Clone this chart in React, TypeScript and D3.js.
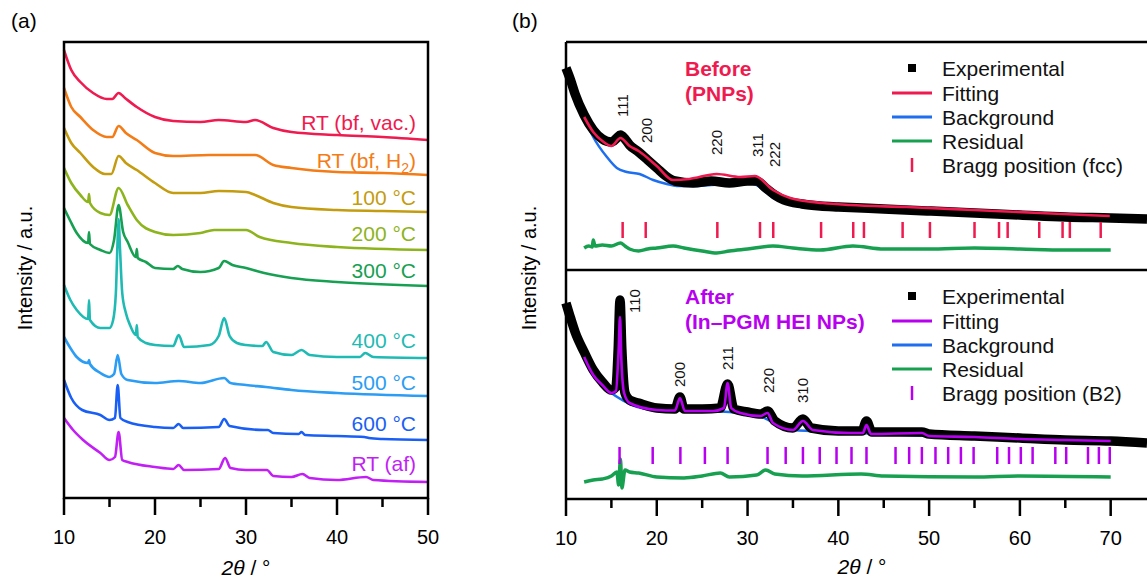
import React from "react";
import * as d3 from "d3";

type Pt = [number, number];

// ---------- Panel (a) data: 2θ (°) vs intensity (a.u., stacked) ----------
const aNames = ["RT (bf, vac.)", "RT (bf, H2)", "100 °C", "200 °C", "300 °C", "400 °C", "500 °C", "600 °C", "RT (af)"];
const aColors = ["#ef1a4f", "#f47c16", "#c49c10", "#8db41c", "#17a052", "#1fbab3", "#2b9df4", "#1a5ff5", "#c21ff5"];

const aVac: Pt[] = [[10,448],[10.8,428],[11.8,416],[13.2,405],[14.7,399],[15.3,399],[16,405],[16.7,400],[18,391],[20,381],[22,377],[25,376],[27,378],[30,376],[31,378],[33,370],[35,366],[40,363],[45,361],[50,358]];
const aH2: Pt[] = [[10,410],[10.8,391],[11.8,381],[13.2,368],[14.7,361],[15.3,361],[16,372],[16.8,365],[18,358],[20,345],[22,342],[26,343],[30,343],[31,343],[33,333],[35,330],[40,326],[45,325],[50,323]];
const a100: Pt[] = [[10,370],[10.8,355],[11.8,345],[13.2,331],[14.5,324],[15.2,324],[16,342],[16.8,335],[18,328],[20,315],[22,305],[25,305],[27,307],[30,306],[31,303],[33,295],[35,291],[40,288],[45,287],[50,286]];
const a200: Pt[] = [[10,330],[10.8,315],[11.8,303],[12.65,296],[12.75,304],[12.85,295],[14,285],[15,283],[16,310],[17,293],[18,278],[20,266],[22,263],[25,265],[26.5,268],[30,268],[31.5,261],[35,255],[40,251],[50,248]];
const a300: Pt[] = [[10,290],[10.7,277],[11.4,265],[12.65,255],[12.75,266],[12.85,254],[14,248],[15,245],[15.5,258],[16,293],[16.5,266],[17,256],[17.9,241],[18,249],[18.1,240],[19,236],[20,230],[22,229],[22.5,232],[23,229],[25,226],[27,230],[27.6,237],[28.5,233],[30,230],[32,225],[35,220],[40,216],[50,212]];
const a400: Pt[] = [[10,213],[10.7,198],[11.4,188],[12.65,179],[12.75,198],[12.85,178],[14,170],[15,170],[15.4,178],[15.7,205],[15.9,260],[16,279],[16.15,250],[16.4,205],[16.8,185],[17.3,172],[17.9,163],[18,173],[18.1,161],[19,155],[20,153],[22,152],[22.6,163],[23.2,151],[26,153],[27,162],[27.6,180],[28.2,162],[29,155],[30,153],[31.8,152],[32.2,156],[33,146],[35,143],[36.1,148],[37,143],[40,141],[42.5,141],[43.1,145],[44,141],[50,140]];
const a500: Pt[] = [[10,161],[10.7,150],[11.4,141],[12.65,135],[12.75,138],[12.85,134],[14,125],[15,121],[15.5,124],[15.9,143],[16.3,124],[17,118],[20,115],[22.6,117],[25,115],[27.6,120],[28.3,115],[30,113],[32.2,111],[35,108],[40,105],[50,102]];
const a600: Pt[] = [[10,118],[10.8,100],[12,88],[14,83],[15,78],[15.6,80],[15.9,113],[16.2,80],[17,76],[20,71],[22,70],[22.6,74],[23.1,70],[27,71],[27.6,79],[28.2,72],[32,68],[32.4,68],[33,65],[35.8,64],[36.1,66],[36.5,63],[40,62],[43,61],[43.5,60],[45,59],[50,58]];
const aAf: Pt[] = [[10,80],[11,68],[12.1,58],[14,45],[15,38],[15.6,41],[16,66],[16.4,38],[17,36],[20,31],[22,29],[22.6,33],[23.2,28],[27,29],[27.7,40],[28.3,30],[30,28],[32.3,28],[33,22],[35,21],[36.2,24],[37,20],[40,18],[43.2,21],[44,18],[50,16]];
const aSeries = [aVac, aH2, a100, a200, a300, a400, a500, a600, aAf];
const aLabelLevel = [376, 338, 301, 265, 228, 158, 116, 75, 35];

const aTicks = [10, 20, 30, 40, 50];
const aMinor = [15, 25, 35, 45];

// ---------- Panel (b) data ----------
const bTicks = [10, 20, 30, 40, 50, 60, 70];
const bMinor = [15, 25, 35, 45, 55, 65];

const bTopExp: Pt[] = [[10,202],[10.5,190],[11,176],[12,155],[13,140],[14,131],[15,128],[15.6,132],[16,135],[16.5,131],[17,125],[18,118],[19,110],[20,102],[21,94],[22,89],[24,87],[26,89],[28,87],[30,89],[31,89],[32,82],[33,75],[34,70],[36,66],[38,64],[40,63],[45,61],[50,59],[55,57],[60,55],[65,53],[70,52],[74,51]];
const bTopFit: Pt[] = [[12,153],[13,138],[14,129],[15,124],[16,132],[17,124],[18,119],[20,104],[21.8,90],[23.6,91],[26.6,96],[29.2,93],[30.8,94],[32.8,80],[34.7,72],[38.3,67],[41.3,65],[47.5,63],[54.9,60],[62.2,57],[69.9,54]];
const bTopBg: Pt[] = [[12,153],[13,133],[14.5,113],[15.6,102],[16.7,98],[18.1,96],[19.6,90],[21.1,86],[22.2,84],[24,84],[26,85],[28,86],[30,87],[31,85],[32,78],[33,71],[34,68],[38,66],[41,64],[47.5,62],[55,59],[62,56],[70,53]];
const bTopRes: Pt[] = [[12,22],[12.5,24],[12.9,23],[13,30],[13.2,24],[14,25],[15,24],[16,27],[16.5,24],[17,21],[18,19],[19,21],[20,22],[21.8,24],[23,22],[25,19],[26.6,17],[28,19],[30,21],[32.8,24],[35,22],[38,20],[41.6,24],[45,21],[50,21],[55,22],[60,21],[65,20],[70,20]];
const fccPos = [16.24, 18.78, 26.67, 31.37, 32.83, 38.1, 41.64, 42.82, 47.08, 50.09, 55.0, 57.7, 58.65, 62.13, 64.7, 65.5, 68.9];
const fccHkl = ["111", "200", "220", "311", "222"];
const fccHklPos = [16.24, 18.9, 26.67, 31.2, 33.0];
const fccHklLevel = [153, 127, 115, 113, 103];

const bBotExp: Pt[] = [[10,196],[10.5,181],[11,167],[12,147],[13,129],[14,117],[15,109],[15.5,112],[15.75,150],[15.95,199],[16.15,150],[16.5,106],[17,99],[18,96],[20,91],[22,90],[22.55,102],[23,90],[25,90],[27,91],[27.8,115],[28.5,90],[30,87],[31.5,85],[32.2,88],[33,78],[35,71],[36.1,80],[37,71],[40,68],[42.6,68],[43.1,78],[43.7,67],[49.2,67],[50,65],[55,63],[60,61],[65,59],[70,58],[74,56]];
const bBotFit: Pt[] = [[12,142],[13,124],[14,114],[15,106],[15.5,108],[15.8,150],[15.95,182],[16.1,139],[16.4,106],[17,96],[20,89],[22,88.5],[22.55,101],[23.1,88],[26.2,88],[27.4,91],[27.8,116],[28.2,91],[29.2,86],[31.4,83],[32.2,86],[32.8,76],[35,69],[36.1,78],[37.2,69],[41.3,66],[42.7,66],[43.1,74],[43.6,65],[49.2,66],[50,63],[55,62],[60,60],[65,59],[70,58]];
const bBotBg: Pt[] = [[12,142],[13,124],[14,114],[15,106],[16,100],[17,95],[20,89],[26,88],[28,87],[31,84],[33,76],[35,69],[40,67],[50,63],[60,60],[70,58]];
const bBotRes: Pt[] = [[12,17],[13,19],[14,20],[15,23],[15.6,27],[15.8,14],[16,40],[16.15,11],[16.5,29],[17,27],[18,26],[20,22],[23,21],[25,23],[27,26],[28,22],[31,24],[32,29],[33,25],[36,23],[42.5,25],[45,23],[55,22],[60,23],[70,22]];
const b2Pos = [15.9, 19.55, 22.6, 25.3, 27.8, 32.2, 34.2, 36.1, 37.95, 39.8, 41.45, 43.1, 46.3, 47.8, 49.2, 50.7, 52.1, 53.5, 54.9, 57.5, 58.8, 60.1, 61.4, 63.9, 65.1, 67.5, 68.7, 69.9];
const b2Hkl = ["110", "200", "211", "220", "310"];
const b2HklPos = [17.6, 22.6, 27.8, 32.4, 36.1];
const b2HklLevel = [186, 112, 129, 106, 96];

const legendTop = ["Experimental", "Fitting", "Background", "Residual", "Bragg position (fcc)"];
const legendBot = ["Experimental", "Fitting", "Background", "Residual", "Bragg position (B2)"];

const RED = "#ef1a4f";
const PURPLE = "#b800f0";
const BLUE = "#1e6ff0";
const GREEN = "#17a050";
const FONT = "'Liberation Sans', Arial, sans-serif";
const FS = 21;

export default function App() {
  const xA = d3.scaleLinear().domain([10, 50]).range([64, 428]);
  const yA = d3.scaleLinear().domain([0, 456]).range([498, 42]);
  const xB = d3.scaleLinear().domain([10, 74]).range([566, 1147]);
  const yT = d3.scaleLinear().domain([0, 228]).range([270, 42]);
  const yBo = d3.scaleLinear().domain([0, 229]).range([499, 270]);

  const lineA = d3.line<Pt>().x(d => xA(d[0])).y(d => yA(d[1])).curve(d3.curveMonotoneX);
  const lineT = d3.line<Pt>().x(d => xB(d[0])).y(d => yT(d[1])).curve(d3.curveMonotoneX);
  const lineBo = d3.line<Pt>().x(d => xB(d[0])).y(d => yBo(d[1])).curve(d3.curveMonotoneX);

  const axisY = 498;
  const axisYB = 499;

  const renderLabelA = (name: string, i: number) => {
    const y = yA(aLabelLevel[i]) + 7.5;
    if (name === "RT (bf, H2)") {
      return (
        <text key={i} x={416} y={y} textAnchor="end" fill={aColors[i]} fontSize={FS} fontFamily={FONT}>
          RT (bf, H<tspan fontSize={14} dy={5}>2</tspan><tspan dy={-5}>)</tspan>
        </text>
      );
    }
    return (
      <text key={i} x={416} y={y} textAnchor="end" fill={aColors[i]} fontSize={FS} fontFamily={FONT}>
        {name}
      </text>
    );
  };

  const legendRowsTop = [68, 93, 117, 141, 165];
  const legendRowsBot = [296, 321, 345, 369, 393];

  const renderLegend = (rows: number[], labels: string[], fitColor: string, braggColor: string, keyp: string) => (
    <g key={keyp}>
      <rect x={908} y={rows[0] - 4} width={8} height={8} fill="#000" />
      <line x1={892} x2={932} y1={rows[1]} y2={rows[1]} stroke={fitColor} strokeWidth={3} />
      <line x1={892} x2={932} y1={rows[2]} y2={rows[2]} stroke={BLUE} strokeWidth={3} />
      <line x1={892} x2={932} y1={rows[3]} y2={rows[3]} stroke={GREEN} strokeWidth={3} />
      <line x1={912} x2={912} y1={rows[4] - 7} y2={rows[4] + 7} stroke={braggColor} strokeWidth={2.5} />
      {labels.map((t, i) => (
        <text key={i} x={942} y={rows[i] + 7.5} fontSize={FS} fontFamily={FONT} fill="#111">{t}</text>
      ))}
    </g>
  );

  return (
    <svg width={1147} height={579} style={{ position: "absolute", left: 0, top: 0, background: "#fff" }}>
      <rect x={0} y={0} width={1147} height={579} fill="#fff" />
      {/* ---------------- Panel (a) ---------------- */}
      <text x={11} y={28} fontSize={FS} fontFamily={FONT}>(a)</text>
      {aSeries.map((s, i) => (
        <path key={i} d={lineA(s) || ""} fill="none" stroke={aColors[i]} strokeWidth={2.6} strokeLinejoin="round" />
      ))}
      {aNames.map((n, i) => renderLabelA(n, i))}
      <rect x={64} y={42} width={364} height={456} fill="none" stroke="#000" strokeWidth={2.5} />
      {aTicks.map(t => (
        <g key={t}>
          <line x1={xA(t)} x2={xA(t)} y1={axisY} y2={axisY + 17} stroke="#000" strokeWidth={2.5} />
          <text x={xA(t)} y={544} textAnchor="middle" fontSize={20} fontFamily={FONT}>{t}</text>
        </g>
      ))}
      {aMinor.map(t => (
        <line key={t} x1={xA(t)} x2={xA(t)} y1={axisY} y2={axisY + 9} stroke="#000" strokeWidth={2.5} />
      ))}
      <text x={246} y={575} textAnchor="middle" fontSize={FS} fontFamily={FONT}>
        <tspan fontStyle="italic">2θ</tspan> / °
      </text>
      <text transform="translate(32,268) rotate(-90)" textAnchor="middle" fontSize={20} fontFamily={FONT}>Intensity / a.u.</text>

      {/* ---------------- Panel (b) ---------------- */}
      <text x={512} y={28} fontSize={FS} fontFamily={FONT}>(b)</text>

      {/* top subplot */}
      <path d={lineT(bTopBg) || ""} fill="none" stroke={BLUE} strokeWidth={2.5} />
      <path d={lineT(bTopExp) || ""} fill="none" stroke="#000" strokeWidth={9.5} strokeLinejoin="round" />
      <path d={lineT(bTopFit) || ""} fill="none" stroke={RED} strokeWidth={2.6} />
      <path d={lineT(bTopRes) || ""} fill="none" stroke={GREEN} strokeWidth={3.5} />
      {fccPos.map((p, i) => (
        <line key={i} x1={xB(p)} x2={xB(p)} y1={yT(48)} y2={yT(32)} stroke={RED} strokeWidth={2.5} />
      ))}
      {fccHkl.map((h, i) => (
        <text key={h + i} transform={`translate(${xB(fccHklPos[i]) + 5},${yT(fccHklLevel[i])}) rotate(-90)`} fontSize={15} fontFamily={FONT} fill="#111">{h}</text>
      ))}
      <text x={685} y={76} fontSize={FS} fontWeight="bold" fontFamily={FONT} fill={RED}>Before</text>
      <text x={685} y={101} fontSize={FS} fontWeight="bold" fontFamily={FONT} fill={RED}>(PNPs)</text>
      {renderLegend(legendRowsTop, legendTop, RED, RED, "lt")}

      {/* bottom subplot */}
      <path d={lineBo(bBotBg) || ""} fill="none" stroke={BLUE} strokeWidth={2.5} />
      <path d={lineBo(bBotExp) || ""} fill="none" stroke="#000" strokeWidth={9.5} strokeLinejoin="round" />
      <path d={lineBo(bBotFit) || ""} fill="none" stroke={PURPLE} strokeWidth={2.6} />
      <path d={lineBo(bBotRes) || ""} fill="none" stroke={GREEN} strokeWidth={3.5} />
      {b2Pos.map((p, i) => (
        <line key={i} x1={xB(p)} x2={xB(p)} y1={yBo(52)} y2={yBo(35)} stroke={PURPLE} strokeWidth={2.5} />
      ))}
      {b2Hkl.map((h, i) => (
        <text key={h + i} transform={`translate(${xB(b2HklPos[i]) + 5},${yBo(b2HklLevel[i])}) rotate(-90)`} fontSize={15} fontFamily={FONT} fill="#111">{h}</text>
      ))}
      <text x={685} y={304} fontSize={FS} fontWeight="bold" fontFamily={FONT} fill={PURPLE}>After</text>
      <text x={685} y={329} fontSize={FS} fontWeight="bold" fontFamily={FONT} fill={PURPLE}>(In–PGM HEI NPs)</text>
      {renderLegend(legendRowsBot, legendBot, PURPLE, PURPLE, "lb")}

      {/* frame */}
      <line x1={566} x2={1147} y1={42} y2={42} stroke="#000" strokeWidth={2.5} />
      <line x1={566} x2={1147} y1={270} y2={270} stroke="#000" strokeWidth={2.5} />
      <line x1={566} x2={1147} y1={axisYB} y2={axisYB} stroke="#000" strokeWidth={2.5} />
      <line x1={566} x2={566} y1={42} y2={axisYB} stroke="#000" strokeWidth={2.5} />
      {bTicks.map(t => (
        <g key={t}>
          <line x1={xB(t)} x2={xB(t)} y1={axisYB} y2={axisYB + 17} stroke="#000" strokeWidth={2.5} />
          <text x={xB(t)} y={545} textAnchor="middle" fontSize={20} fontFamily={FONT}>{t}</text>
        </g>
      ))}
      {bMinor.map(t => (
        <line key={t} x1={xB(t)} x2={xB(t)} y1={axisYB} y2={axisYB + 9} stroke="#000" strokeWidth={2.5} />
      ))}
      <text x={862} y={574} textAnchor="middle" fontSize={FS} fontFamily={FONT}>
        <tspan fontStyle="italic">2θ</tspan> / °
      </text>
      <text transform="translate(536,268) rotate(-90)" textAnchor="middle" fontSize={20} fontFamily={FONT}>Intensity / a.u.</text>
    </svg>
  );
}
